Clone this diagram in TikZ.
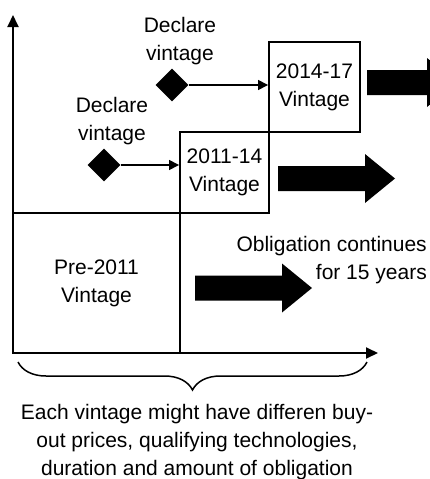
\documentclass[tikz,border=0pt]{standalone}
\usepackage{fontspec}
\setmainfont{Liberation Sans}
\usetikzlibrary{arrows.meta,shapes.geometric,decorations.pathreplacing}

\tikzset{
  sageata/.pic={\fill (0,-12.5) -- (#1,-12.5) -- (#1,-24.5) -- (#1+30,0)
    -- (#1,24.5) -- (#1,12.5) -- (0,12.5) -- cycle;}
}

\begin{document}
\begin{tikzpicture}[x=1pt,y=-1pt,
    font=\fontsize{21}{28}\selectfont,
    lw/.style={line width=1.9pt},
    cutie/.style={draw,line width=1.9pt,inner sep=0pt,align=center},
    romb/.style={diamond,fill=black,inner sep=0pt,minimum width=33pt,minimum height=33pt},
    eticheta/.style={inner sep=0pt,align=center}]
  \useasboundingbox (0,0) rectangle (430,479);
  \clip (0,0) rectangle (430,479);

  % axele
  \coordinate (O) at (13,353);
  \coordinate (ysus) at (13,15);
  \coordinate (xdr) at (378,353);
  \draw[lw,-{Triangle[length=12pt,width=11pt]}] (O) -- (ysus);
  \draw[lw,-{Triangle[length=12pt,width=11pt]}] (O) -- (xdr);

  % cutiile
  \node[cutie,minimum width=167pt,minimum height=140pt] (pre) at (96.5,283) {Pre-2011\\Vintage};
  \node[cutie,minimum width=89pt,minimum height=81pt] (v11) at (224.5,172.5) {2011-14\\Vintage};
  \node[cutie,minimum width=91pt,minimum height=90pt] (v14) at (314.5,87) {2014-17\\Vintage};

  % declararea
  \node[romb] (d1) at (104,165) {};
  \node[romb] (d2) at (172,85) {};
  \node[eticheta] (e1) at (112,121) {Declare\\vintage};
  \node[eticheta] (e2) at (180,41) {Declare\\vintage};
  \draw[line width=1.5pt,-{Triangle[length=10pt,width=10pt]}] (d1) -- (d1 -| v11.west);
  \draw[line width=1.5pt,-{Triangle[length=10pt,width=10pt]}] (d2) -- (d2 -| v14.west);

  % sagetile mari
  \pic at (195,288) {sageata=87};
  \pic at (278,178.5) {sageata=87};
  \pic at (367,82.5) {sageata=60};
  \node[eticheta,align=right,anchor=east] (obl) at (427,260) {Obligation continues\\for 15 years};

  % acolada
  \coordinate (b1) at (18,362);
  \coordinate (b2) at (367,362);
  \draw[line width=1.5pt,decorate,decoration={brace,mirror,amplitude=28pt}] (b1) -- (b2);
  \node[eticheta] (nota) at (197,442) {Each vintage might have differen buy-\\out prices, qualifying technologies,\\duration and amount of obligation};
\end{tikzpicture}
\end{document}
